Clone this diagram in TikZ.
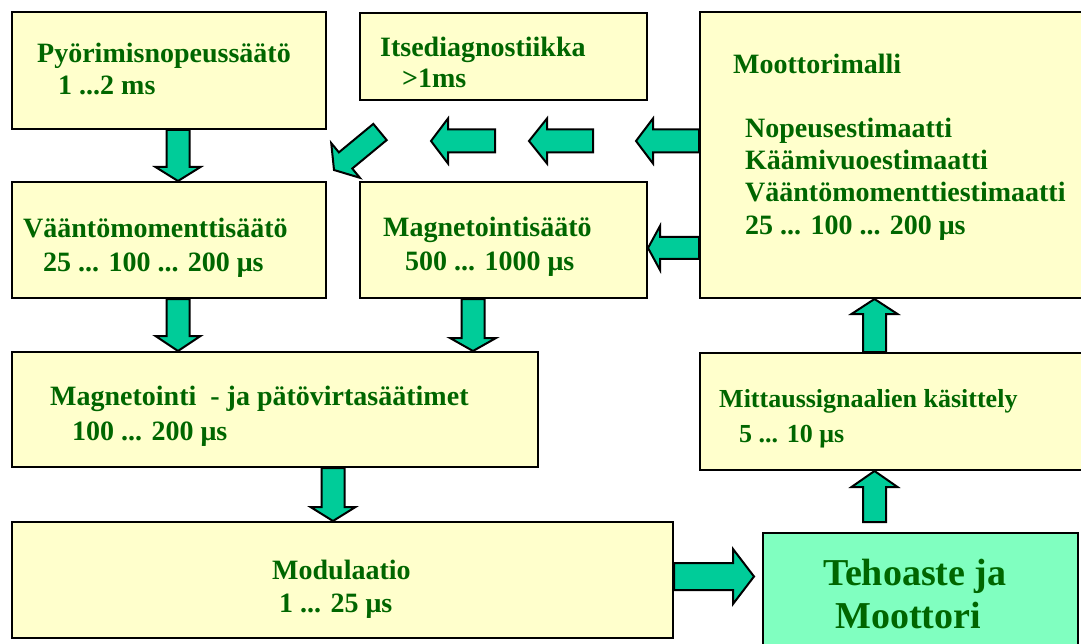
\documentclass[tikz,border=0pt]{standalone}
\usepackage{fontspec}
\setmainfont{Liberation Serif}
\usetikzlibrary{calc}

\definecolor{boxfill}{RGB}{255,255,204}
\definecolor{txtgreen}{RGB}{0,102,0}
\definecolor{arrowfill}{RGB}{0,204,153}
\definecolor{stagefill}{RGB}{128,255,192}

% block arrow from #1 (tail) to #2 (tip):
% #3 half shaft width, #4 half head width, #5 head length
\newcommand{\fatarrow}[5]{%
  \coordinate (fa-head) at ($(#2)!#5!(#1)$);
  \draw[blockarrow]
    ($(#1)!#3!90:(#2)$) -- ($(fa-head)!#3!-90:(#1)$) --
    ($(fa-head)!#4!-90:(#1)$) -- (#2) --
    ($(fa-head)!#4!90:(#1)$) -- ($(fa-head)!#3!90:(#1)$) --
    ($(#1)!#3!-90:(#2)$) -- cycle;}

\begin{document}
\begin{tikzpicture}[x=1pt,y=-1pt,
  block/.style={draw=black, line width=2pt, fill=boxfill, rectangle,
    anchor=north west, inner sep=0pt},
  stage/.style={block, fill=stagefill},
  lbl/.style={anchor=base west, inner sep=0pt, text=txtgreen,
    font=\bfseries\fontsize{28}{32}\selectfont},
  lblsmall/.style={lbl, font=\bfseries\fontsize{26}{30}\selectfont},
  lblbig/.style={lbl, font=\bfseries\fontsize{38}{44}\selectfont},
  blockarrow/.style={draw=black, line width=2pt, fill=arrowfill, line join=miter}]

\useasboundingbox (0,0) rectangle (1081,644);
\clip (0,0) rectangle (1081,644);

% ---- blocks ----
\node[block, minimum width=314, minimum height=117] (pyor)    at (11,11)  {};
\node[block, minimum width=287, minimum height=87]  (itse)    at (359,12) {};
\node[block, minimum width=390, minimum height=286] (motor)   at (699,11) {};
\node[block, minimum width=314, minimum height=116] (vaanto)  at (11,181) {};
\node[block, minimum width=287, minimum height=116] (magn)    at (359,181) {};
\node[block, minimum width=526, minimum height=115] (magja)   at (11,351) {};
\node[block, minimum width=390, minimum height=117] (mittaus) at (699,352) {};
\node[block, minimum width=661, minimum height=116] (modul)   at (11,521) {};
\node[stage, minimum width=315, minimum height=130] (teho)    at (762,532) {};

% ---- labels ----
\node[lbl] (pyor-a) at (37,63) {Pyörimisnopeussäätö};
\node[lbl] (pyor-b) at (58,95) {1 ...2 ms};

\node[lbl] (itse-a) at (380,57) {Itsediagnostiikka};
\node[lbl] (itse-b) at (402,88) {>1ms};

\node[lbl] (motor-a) at (733,74)  {Moottorimalli};
\node[lbl] (motor-b) at (745,138) {Nopeusestimaatti};
\node[lbl] (motor-c) at (745,170) {Käämivuoestimaatti};
\node[lbl] (motor-d) at (745,202) {Vääntömomenttiestimaatti};
\node[lbl] (motor-e) at (745,235) {25 ... 100 ... 200 μs};

\node[lbl] (vaanto-a) at (23,238) {Vääntömomenttisäätö};
\node[lbl] (vaanto-b) at (43,272) {25 ... 100 ... 200 μs};

\node[lbl] (magn-a) at (383,237) {Magnetointisäätö};
\node[lbl] (magn-b) at (405,270) {500 ... 1000 μs};

\node[lbl] (magja-a) at (50,405) {Magnetointi~ - ja pätövirtasäätimet};
\node[lbl] (magja-b) at (72,440) {100 ... 200 μs};

\node[lblsmall] (mittaus-a) at (719,407) {Mittaussignaalien käsittely};
\node[lblsmall] (mittaus-b) at (739,442) {5 ... 10 μs};

\node[lbl] (modul-a) at (272,579) {Modulaatio};
\node[lbl] (modul-b) at (279,612) {1 ... 25 μs};

\node[lblbig] (teho-a) at (823,585) {Tehoaste ja};
\node[lblbig] (teho-b) at (835,628) {Moottori};

% ---- arrow end points ----
\coordinate (a1s) at ($(pyor.south)+(9,0)$);
\coordinate (a1e) at (a1s |- vaanto.north);
\coordinate (a2s) at ($(vaanto.south)+(9,0)$);
\coordinate (a2e) at (a2s |- magja.north);
\coordinate (a3s) at ($(magn.south)+(-30.5,0)$);
\coordinate (a3e) at (a3s |- magja.north);
\coordinate (a4s) at ($(magja.south west)+(322,0)$);
\coordinate (a4e) at (a4s |- modul.north);
\coordinate (a5s) at ($(modul.east)+(0,-3.5)$);
\coordinate (a5e) at ($(a5s -| teho.west)+(-8,0)$);
\coordinate (a6e) at ($(mittaus.south west)+(175.5,0)$);
\coordinate (a6s) at ($(a6e |- teho.north)+(0,-10)$);
\coordinate (a7s) at ($(mittaus.north west)+(175.5,0)$);
\coordinate (a7e) at (a7s |- motor.south);
\coordinate (a8s) at ($(motor.north west)+(0,130)$);
\coordinate (a8e) at ($(a8s)+(-63,0)$);
\coordinate (a9s) at ($(a8s)+(-106,0)$);
\coordinate (a9e) at ($(a8s)+(-170,0)$);
\coordinate (a10s) at ($(a8s)+(-204,0)$);
\coordinate (a10e) at ($(a8s)+(-268,0)$);
\coordinate (a11s) at ($(itse.south west)+(21,31)$);
\coordinate (a11e) at ($(vaanto.north east)+(7,-11)$);
\coordinate (a12s) at ($(motor.north west)+(0,237)$);
\coordinate (a12e) at (a12s -| magn.east);

% ---- block arrows ----
\fatarrow{a1s}{a1e}{11.5pt}{22.5pt}{14pt}
\fatarrow{a2s}{a2e}{11.5pt}{22.5pt}{15pt}
\fatarrow{a3s}{a3e}{11.5pt}{23pt}{13pt}
\fatarrow{a4s}{a4e}{11.5pt}{22.5pt}{14pt}
\fatarrow{a5s}{a5e}{13.5pt}{27.5pt}{21pt}
\fatarrow{a6s}{a6e}{11.5pt}{23pt}{16pt}
\fatarrow{a7s}{a7e}{11.5pt}{23pt}{15pt}
\fatarrow{a8s}{a8e}{11.5pt}{22.5pt}{17pt}
\fatarrow{a9s}{a9e}{11.5pt}{22.5pt}{18pt}
\fatarrow{a10s}{a10e}{11.5pt}{22.5pt}{17pt}
\fatarrow{a11s}{a11e}{10.5pt}{22.5pt}{15pt}
\fatarrow{a12s}{a12e}{11pt}{22pt}{12pt}
\end{tikzpicture}
\end{document}
